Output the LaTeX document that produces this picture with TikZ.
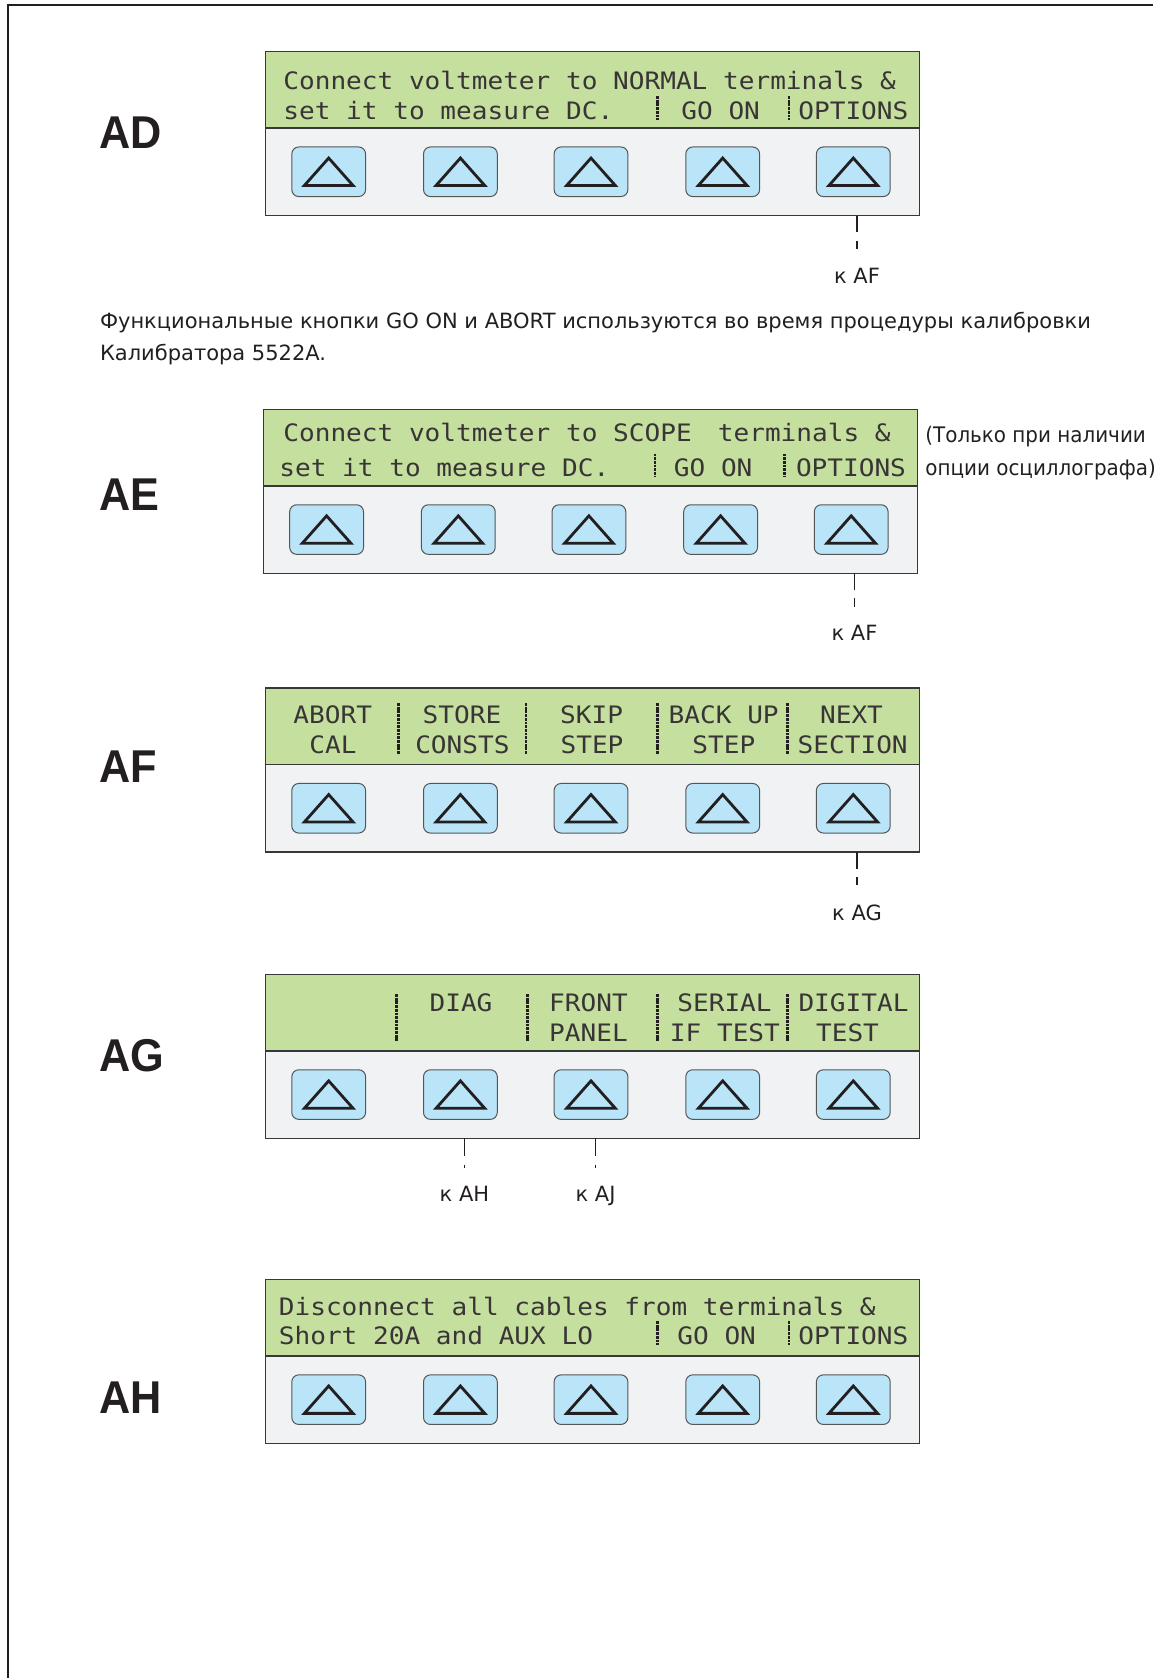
\documentclass[tikz,border=0pt]{standalone}
\usepackage{fontspec}
\setmainfont{DejaVu Sans}
\newfontfamily\rucond{DejaVu Sans}[FakeStretch=0.93]
\newfontfamily\lcdfont{DejaVu Sans Mono}[FakeStretch=1.087]
\newfontfamily\lblfont{Liberation Sans}[FakeStretch=0.94]
\usetikzlibrary{calc}
\definecolor{lcdgreen}{RGB}{197,223,158}
\definecolor{panelgray}{RGB}{241,242,244}
\definecolor{btnblue}{RGB}{186,228,248}
\definecolor{edge}{RGB}{55,55,55}
\definecolor{ink}{RGB}{35,31,32}
\tikzset{
 hdr/.style={draw=edge, line width=0.8pt, fill=lcdgreen, minimum width=327pt, minimum height=38.25pt, inner sep=0pt, outer sep=0pt, anchor=north west},
 bodybox/.style={draw=edge, line width=0.8pt, fill=panelgray, minimum width=327pt, minimum height=43.75pt, inner sep=0pt, outer sep=0pt, anchor=north west},
 btn/.style={draw=edge!85, line width=0.5pt, fill=btnblue, rounded corners=3.5pt, minimum width=36.9pt, minimum height=24.8pt, inner sep=0pt},
 tri/.style={draw=ink, line width=1.4pt, line join=miter},
 lcd/.style={font=\lcdfont\fontsize{12}{12}\selectfont, text=ink!90, inner sep=0pt, anchor=base west},
 lcdc/.style={lcd, anchor=base},
 lcdbar/.style={draw=ink, line width=1.3pt, dash pattern=on 1.4pt off 0.45pt},
 lbl/.style={font=\lblfont\bfseries\fontsize{23}{26}\selectfont, text=ink, inner sep=0pt, anchor=west},
 ru/.style={font=\fontsize{10.5}{13}\selectfont, text=ink, inner sep=0pt, anchor=base west},
 rus/.style={font=\rucond\fontsize{10.7}{13}\selectfont, text=ink, inner sep=0pt, anchor=base west},
 ruc/.style={ru, anchor=base},
 conn/.style={draw=ink, line width=0.55pt, dash pattern=on 8.3pt off 4.2pt on 4.2pt off 60pt},
 connshort/.style={draw=ink, line width=0.55pt, dash pattern=on 8.6pt off 4.6pt on 1.5pt off 60pt},
}
\newcommand\mkpanel[3]{%
  \node[hdr] (#1h) at (#2,#3) {};
  \node[bodybox] (#1) at (#1h.south west) {};
  \foreach \k/\dx in {1/63.2,2/194.9,3/325.5,4/457.2,5/587.8}{
    \node[btn] (#1b\k) at ($(#1.west)+(\dx,0)$) {};
    \draw[tri] ($(#1b\k.center)+(-24.3,13.7)$) -- ++(48.6,0) -- ++(-24.3,-27.4) -- cycle;
  }
}
\begin{document}
\begin{tikzpicture}[x=0.5pt,y=-0.5pt]
\useasboundingbox (0,0) rectangle (1153,1678);
\draw[draw=ink, line width=1pt] (7.5,1678) -- (7.5,5) -- (1153,5);

% ---------- AD ----------
\node[lbl] (lAD) at (99,132.8) {AD};
\mkpanel{AD}{265.5}{51.5}
\node[lcd] (adt1) at (283,89) {Connect voltmeter to NORMAL terminals \&};
\node[lcd] (adt2) at (283,119) {set it to measure DC.};
\node[lcd] (adt3) at (681,119) {GO ON};
\node[lcd] (adt4) at (798,119) {OPTIONS};
\draw[lcdbar] (657.6,96) -- (657.6,119.5);
\draw[lcdbar] (789,96) -- (789,119.5);
\node[ruc] (kAF1) at (857,283) {к AF};
\draw[conn] (kAF1.north |- AD.south) -- (kAF1.north);

% ---------- paragraph ----------
\node[ru] (p1) at (99.6,328.5) {Функциональные кнопки GO ON и ABORT используются во время процедуры калибровки};
\node[ru] (p2) at (99.6,360) {Калибратора 5522A.};

% ---------- AE ----------
\node[lbl] (lAE) at (99,495) {AE};
\mkpanel{AE}{263.4}{409.3}
\node[lcd] (aet1) at (283,441) {Connect voltmeter to SCOPE};
\node[lcd] (aet1b) at (717.5,441) {terminals \&};
\node[lcd] (aet2) at (279,476.5) {set it to measure DC.};
\node[lcd] (aet3) at (673.5,476.5) {GO ON};
\node[lcd] (aet4) at (795.6,476.5) {OPTIONS};
\draw[lcdbar] (655,453.5) -- (655,477);
\draw[lcdbar] (784.7,453.5) -- (784.7,477);
\node[rus] (s1) at (925,442) {(Только при наличии};
\node[rus] (s2) at (925,475) {опции осциллографа)};
\node[ruc] (kAF2) at (854.5,640) {к AF};
\draw[conn] (kAF2.north |- AE.south) -- (kAF2.north);

% ---------- AF ----------
\node[lbl] (lAF) at (99,767) {AF};
\mkpanel{AF}{265.5}{688}
\node[lcdc] (aft1) at (332.7,723) {ABORT};
\node[lcdc] (aft2) at (333,753) {CAL};
\node[lcdc] (aft3) at (462,723) {STORE};
\node[lcdc] (aft4) at (462.4,753) {CONSTS};
\node[lcdc] (aft5) at (591.6,723) {SKIP};
\node[lcdc] (aft6) at (592,753) {STEP};
\node[lcdc] (aft7) at (723.7,723) {BACK UP};
\node[lcdc] (aft8) at (723.8,753) {STEP};
\node[lcdc] (aft9) at (851.5,723) {NEXT};
\node[lcdc] (aft10) at (852.7,753) {SECTION};
\foreach \bx in {398.7,525.8,657.6,787.7}{\draw[lcdbar] (\bx,703) -- (\bx,754);}
\node[ruc] (kAG) at (857,920) {к AG};
\draw[conn] (kAG.north |- AF.south) -- (kAG.north);

% ---------- AG ----------
\node[lbl] (lAG) at (99,1055.6) {AG};
\mkpanel{AG}{265.5}{974.3}
\node[lcdc] (agt1) at (461,1011.5) {DIAG};
\node[lcdc] (agt2) at (588.5,1011.5) {FRONT};
\node[lcdc] (agt3) at (588.5,1041.5) {PANEL};
\node[lcdc] (agt4) at (724.5,1011.5) {SERIAL};
\node[lcdc] (agt5) at (724.9,1041.5) {IF TEST};
\node[lcdc] (agt6) at (853.5,1011.5) {DIGITAL};
\node[lcdc] (agt7) at (847.5,1041.5) {TEST};
\foreach \bx in {396.3,527.2,657.6,787.7}{\draw[lcdbar] (\bx,994) -- (\bx,1042);}
\node[ruc] (kAH) at (464.5,1201) {к AH};
\node[ruc] (kAJ) at (595.5,1201) {к AJ};
\draw[connshort] (kAH.north |- AG.south) -- (kAH.north);
\draw[connshort] (kAJ.north |- AG.south) -- (kAJ.north);

% ---------- AH ----------
\node[lbl] (lAH) at (99,1398) {AH};
\mkpanel{AH}{265.5}{1279.4}
\node[lcd] (aht1) at (278.5,1315) {Disconnect all cables from terminals \&};
\node[lcd] (aht2) at (278.5,1344) {Short 20A and AUX LO};
\node[lcd] (aht3) at (677,1344) {GO ON};
\node[lcd] (aht4) at (798,1344) {OPTIONS};
\draw[lcdbar] (657.6,1321) -- (657.6,1344.5);
\draw[lcdbar] (789,1321) -- (789,1344.5);
\end{tikzpicture}
\end{document}
